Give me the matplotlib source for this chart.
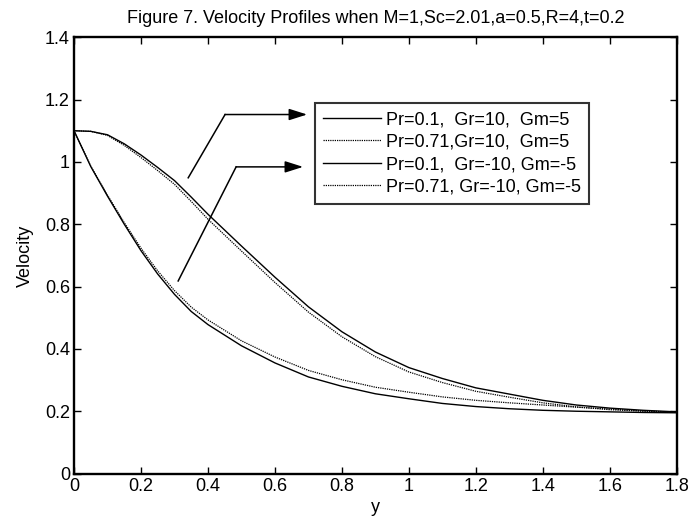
import numpy as np
import matplotlib
matplotlib.use("Agg")
import matplotlib.pyplot as plt

plt.rcParams['font.family'] = ['Liberation Sans', 'DejaVu Sans']

# velocity profiles read at these y positions
y = [0, 0.05, 0.1, 0.15, 0.2, 0.25, 0.3, 0.35, 0.4, 0.5, 0.6, 0.7, 0.8,
     0.9, 1.0, 1.1, 1.2, 1.3, 1.4, 1.5, 1.6, 1.7, 1.8]

u_pr01_gr10 = [1.1, 1.098, 1.087, 1.058, 1.022, 0.982, 0.94, 0.887, 0.832, 0.73,
               0.63, 0.535, 0.455, 0.39, 0.34, 0.305, 0.275, 0.255, 0.235,
               0.22, 0.21, 0.203, 0.198]
u_pr071_gr10 = [1.1, 1.098, 1.085, 1.053, 1.014, 0.972, 0.928, 0.873, 0.816, 0.714,
                0.613, 0.518, 0.439, 0.375, 0.326, 0.292, 0.264, 0.245, 0.227,
                0.214, 0.205, 0.2, 0.197]
u_pr01_grm10 = [1.1, 0.985, 0.89, 0.8, 0.715, 0.64, 0.575, 0.52, 0.478, 0.41,
                0.355, 0.31, 0.28, 0.256, 0.24, 0.225, 0.215, 0.208, 0.203,
                0.2, 0.198, 0.196, 0.195]
u_pr071_grm10 = [1.1, 0.986, 0.893, 0.805, 0.723, 0.65, 0.587, 0.534, 0.493, 0.426,
                 0.374, 0.331, 0.301, 0.277, 0.261, 0.246, 0.235, 0.227, 0.22,
                 0.213, 0.207, 0.201, 0.197]

labels = ['Pr=0.1,  Gr=10,  Gm=5',
          'Pr=0.71,Gr=10,  Gm=5',
          'Pr=0.1,  Gr=-10, Gm=-5',
          'Pr=0.71, Gr=-10, Gm=-5']

xticks = [0, 0.2, 0.4, 0.6, 0.8, 1, 1.2, 1.4, 1.6, 1.8]
xticklabels = ['0', '0.2', '0.4', '0.6', '0.8', '1', '1.2', '1.4', '1.6', '1.8']
yticks = [0, 0.2, 0.4, 0.6, 0.8, 1, 1.2, 1.4]
yticklabels = ['0', '0.2', '0.4', '0.6', '0.8', '1', '1.2', '1.4']

fs = 13

fig = plt.figure(figsize=(6.92, 5.17), dpi=100)
ax = fig.add_axes([0.107, 0.084, 0.871, 0.844])

dot = (0, (1, 0.8))
ax.plot(y, u_pr01_gr10, color='k', lw=1.0, label=labels[0])
ax.plot(y, u_pr071_gr10, color='k', lw=0.9, ls=dot, label=labels[1])
ax.plot(y, u_pr01_grm10, color='k', lw=1.0, label=labels[2])
ax.plot(y, u_pr071_grm10, color='k', lw=0.9, ls=dot, label=labels[3])

ax.set_xlim(0, 1.8)
ax.set_ylim(0, 1.4)
ax.set_xticks(xticks)
ax.set_xticklabels(xticklabels)
ax.set_yticks(yticks)
ax.set_yticklabels(yticklabels)
ax.tick_params(direction='in', length=5, width=1, top=True, right=True,
               labelsize=fs, pad=3, colors='k')
for s in ax.spines.values():
    s.set_linewidth(1.7)

ax.set_xlabel('y', fontsize=fs, labelpad=3)
ax.set_ylabel('Velocity', fontsize=fs, labelpad=8)
ax.set_title('Figure 7. Velocity Profiles when M=1,Sc=2.01,a=0.5,R=4,t=0.2',
             fontsize=fs, pad=10)

leg = ax.legend(loc='upper left', bbox_to_anchor=(0.3997, 0.849), fontsize=fs,
                frameon=True, fancybox=False, edgecolor='k', handlelength=3.2,
                handletextpad=0.3, borderpad=0.45, labelspacing=0.3,
                borderaxespad=0)
leg.get_frame().set_linewidth(1.5)

# pointers from each pair of curves to the legend
arrows = [((0.341, 0.949), (0.451, 1.152), (0.696, 1.152)),
          ((0.311, 0.618), (0.484, 0.984), (0.684, 0.984))]
for start, knee, tip in arrows:
    ax.plot([start[0], knee[0]], [start[1], knee[1]], color='k', lw=1.1)
    ax.annotate('', xy=tip, xytext=knee,
                arrowprops=dict(arrowstyle='-|>,head_length=1.1,head_width=0.35',
                                color='k', lw=1.1, shrinkA=0, shrinkB=0))

fig.savefig('out.png', dpi=100)
